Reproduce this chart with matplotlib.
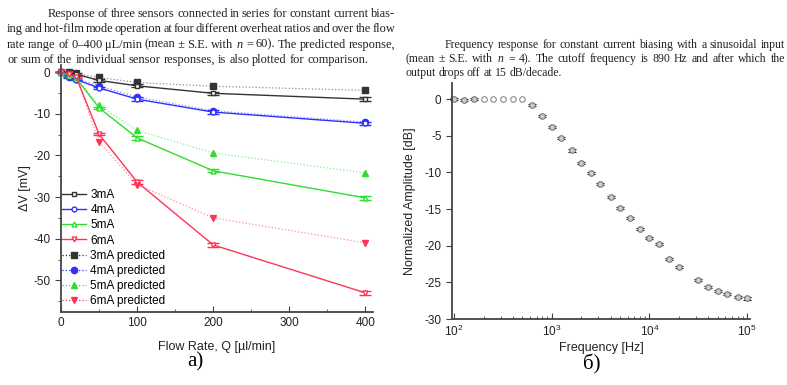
import matplotlib
matplotlib.use("Agg")
import matplotlib.pyplot as plt
from matplotlib.lines import Line2D
from matplotlib.ticker import MultipleLocator, LogLocator, NullFormatter

plt.rcParams["font.family"] = ["Liberation Sans", "DejaVu Sans"]
plt.rcParams["axes.unicode_minus"] = False
plt.rcParams["mathtext.fontset"] = "custom"
plt.rcParams["mathtext.rm"] = "Liberation Serif"
plt.rcParams["mathtext.it"] = "Liberation Serif:italic"

# ---- panel a): sensor response vs flow rate
flow = [0, 10, 20, 50, 100, 200, 400]
meas_3 = [0, -0.2, -0.5, -2.0, -3.3, -5.1, -6.5]
meas_4 = [0, -1.3, -1.8, -3.8, -6.5, -9.6, -12.3]
meas_5 = [0, -0.8, -1.5, -8.6, -15.8, -23.7, -30.2]
meas_6 = [0, -0.5, -1.2, -14.9, -26.4, -41.5, -53.0]
pred_3 = [0, -0.1, -0.3, -1.3, -2.5, -3.4, -4.4]
pred_4 = [0, -1.2, -1.6, -3.3, -6.0, -9.3, -12.0]
pred_5 = [0, -0.7, -1.3, -8.0, -14.0, -19.4, -24.2]
pred_6 = [0, -0.4, -1.0, -16.8, -27.0, -35.0, -41.0]
se_meas = [0.1, 0.2, 0.2, 0.3, 0.4, 0.4, 0.4]

# ---- panel б): frequency response
freq = [100, 125, 160, 630, 800, 1000, 1250, 1600, 2000, 2500, 3150, 4000,
        5000, 6300, 8000, 10000, 12500, 16000, 20000, 31500, 40000, 50000,
        63000, 80000, 100000]
amp = [0.0, -0.1, 0.0, -0.8, -2.3, -3.8, -5.3, -7.0, -8.7, -10.1, -11.6,
       -13.4, -14.9, -16.2, -17.7, -19.0, -19.8, -21.8, -22.9, -24.7, -25.6,
       -26.2, -26.6, -27.0, -27.2]
amp_se = [0.15] * len(freq)
freq_open = [200, 250, 315, 400, 500]
amp_open = [0, 0, 0, 0, 0]

caption_a = [
    "Response of three sensors connected in series for constant current bias-",
    "ing and hot-film mode operation at four different overheat ratios and over the flow",
    "rate range of 0\u2013400 \u03bcL/min (mean \u00b1 S.E. with $n$ = 60). The predicted response,",
    "or sum of the individual sensor responses, is also plotted for comparison.",
]
caption_b = [
    "Frequency response for constant current biasing with a sinusoidal input",
    "(mean \u00b1 S.E. with $n$ = 4). The cutoff frequency is 890 Hz and after which the",
    "output drops off at 15 dB/decade.",
]

W, H = 787, 385
fig = plt.figure(figsize=(W / 100, H / 100), dpi=100)
renderer = fig.canvas.get_renderer()


def justify(line, x0, x1, y, size, last=False):
    words = line.split(" ")
    texts = [fig.text(0, 0, w, fontsize=size, family="Liberation Serif",
                      va="baseline", color="#222222") for w in words]
    widths = [t.get_window_extent(renderer).width for t in texts]
    if last or len(words) < 2:
        gap = size * 0.33
    else:
        gap = (x1 - x0 - sum(widths)) / (len(words) - 1)
    x = x0
    for t, w in zip(texts, widths):
        t.set_position((x / W, 1 - y / H))
        x += w + gap


for i, line in enumerate(caption_a):
    justify(line, 48 if i == 0 else 7, 395, 17 + 15.3 * i, 8.9, last=(i == 3))
for i, line in enumerate(caption_b):
    justify(line, 445 if i == 0 else 405, 785, 48 + 14 * i, 8.5, last=(i == 2))

edge = "#444444"


def style(ax):
    for s in ("top", "right"):
        ax.spines[s].set_visible(False)
    for s in ("left", "bottom"):
        ax.spines[s].set_color(edge)
        ax.spines[s].set_linewidth(1.3)
    ax.tick_params(axis="both", which="both", colors=edge, labelcolor="#222222",
                   labelsize=8.5)
    ax.tick_params(axis="y", which="major", direction="out", length=4)
    ax.tick_params(axis="y", which="minor", direction="out", length=2.5)
    ax.tick_params(axis="x", which="major", direction="in", length=4)
    ax.tick_params(axis="x", which="minor", direction="in", length=2.5)


# ---------- left panel
axa = fig.add_axes([61 / W, 1 - 312 / H, (373 - 61) / W, (312 - 65) / H])
style(axa)
series = [
    ("3mA", meas_3, pred_3, "#333333", "s"),
    ("4mA", meas_4, pred_4, "#3030ff", "o"),
    ("5mA", meas_5, pred_5, "#30dd30", "^"),
    ("6mA", meas_6, pred_6, "#ff3355", "v"),
]
meas_handles, pred_handles = [], []
for name, m, p, c, mk in series:
    axa.errorbar(flow, m, yerr=se_meas, color=c, lw=1.0, marker=mk, ms=3.5,
                 mfc="white", mec=c, capsize=4, elinewidth=0.8,
                 capthick=1.0, clip_on=False)
    meas_handles.append(Line2D([], [], color=c, lw=1.0, marker=mk, ms=3.5,
                               mfc="white", mec=c, label=name))
for name, m, p, c, mk in series:
    axa.plot(flow, p, color=c, lw=0.9, ls=":", alpha=0.55, clip_on=False)
    axa.plot(flow, p, ls="none", marker=mk, ms=4.5, mfc=c, mec=c,
             clip_on=False)
    pred_handles.append(Line2D([], [], color=c, lw=0.9, ls=":", marker=mk,
                               ms=4.5, mfc=c, mec=c, label=name + " predicted"))

axa.set_xlim(0, 410)
axa.set_ylim(-57.6, 1.7)
axa.xaxis.set_major_locator(MultipleLocator(100))
axa.xaxis.set_minor_locator(MultipleLocator(50))
axa.yaxis.set_major_locator(MultipleLocator(10))
axa.yaxis.set_minor_locator(MultipleLocator(5))
axa.set_xlabel("Flow Rate, Q [\u00b5l/min]", fontsize=9, color="#222222",
               labelpad=9)
axa.set_ylabel("\u0394V [mV]", fontsize=9, color="#222222", labelpad=2)
axa.legend(handles=meas_handles + pred_handles, loc="upper left",
           bbox_to_anchor=(62 / W, 1 - 189 / H), bbox_transform=fig.transFigure,
           frameon=False, fontsize=8.5, borderpad=0, borderaxespad=0,
           handlelength=2.0, handletextpad=0.4, labelspacing=0.27)

# ---------- right panel
axb = fig.add_axes([452 / W, 1 - 319 / H, (750 - 452) / W, (319 - 83) / H])
style(axb)
axb.set_xscale("log")
axb.plot(freq_open, amp_open, ls="none", marker="o", ms=4, mfc="white",
         mec="#888888", mew=0.8, clip_on=False)
axb.errorbar(freq, amp, yerr=amp_se, fmt="o", ms=4, mfc="#cccccc",
             mec="#777777", mew=0.8, ecolor="#111111", capsize=3,
             elinewidth=0.8, capthick=1.5, clip_on=False)
axb.set_xlim(95, 10 ** 5.03)
axb.set_ylim(-30, 2.2)
axb.yaxis.set_major_locator(MultipleLocator(5))
axb.xaxis.set_major_locator(LogLocator(base=10))
axb.xaxis.set_minor_locator(LogLocator(base=10, subs=range(2, 10)))
axb.xaxis.set_minor_formatter(NullFormatter())
axb.set_xlabel("Frequency [Hz]", fontsize=9, color="#222222", labelpad=2)
axb.set_ylabel("Normalized Amplitude [dB]", fontsize=9, color="#222222",
               labelpad=6)

fig.text(195 / W, 1 - 362 / H, "a)", fontsize=15, family="Liberation Serif",
         ha="center", va="center")
fig.text(592 / W, 1 - 364 / H, "\u0431)", fontsize=15, family="Liberation Serif",
         ha="center", va="center")

fig.savefig("out.png", dpi=100)
